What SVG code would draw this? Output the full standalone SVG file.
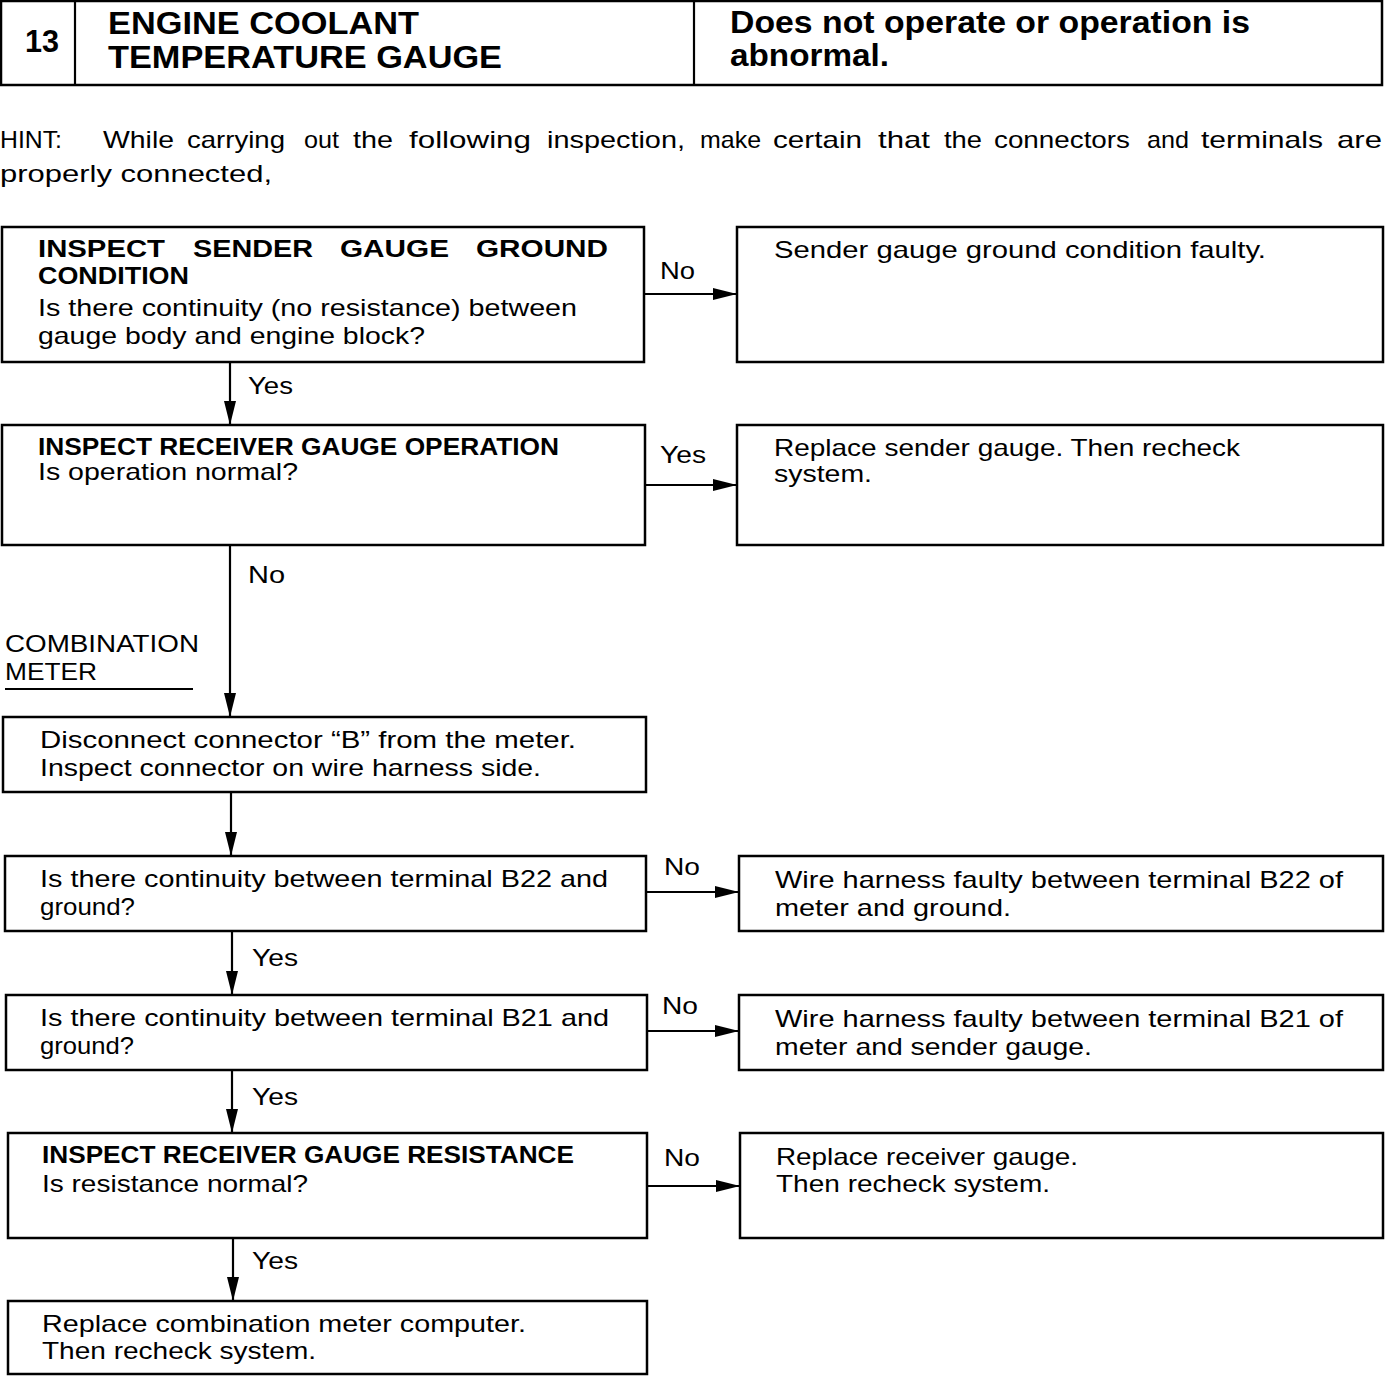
<svg xmlns="http://www.w3.org/2000/svg" width="1392" height="1376" viewBox="0 0 1392 1376">
<style>
.box{fill:#fff;stroke:#000;stroke-width:2.5}
.ln{fill:none;stroke:#000;stroke-width:2.2}
text{font-family:"Liberation Sans",Arial,sans-serif;fill:#000}
.t{font-size:24px}
.b{font-size:24px;font-weight:bold}
.h{font-size:31px;font-weight:bold}
.lb{font-size:24px}
</style>
<defs>
<marker id="ah" markerUnits="userSpaceOnUse" markerWidth="26" markerHeight="14" refX="24" refY="7" orient="auto">
<path d="M0,1 L24,7 L0,13 Z" fill="#000"/>
</marker>
</defs>
<rect width="1392" height="1376" fill="#fff"/>

<g id="header">
<rect class="box" x="1" y="1" width="1381" height="84"/>
<line class="ln" x1="75" y1="1" x2="75" y2="85"/>
<line class="ln" x1="694" y1="1" x2="694" y2="85"/>
<text class="h" x="25" y="52" font-size="27" textLength="34" lengthAdjust="spacingAndGlyphs">13</text>
<text class="h" x="108" y="34" textLength="311" lengthAdjust="spacingAndGlyphs">ENGINE COOLANT</text>
<text class="h" x="108" y="68" textLength="394" lengthAdjust="spacingAndGlyphs">TEMPERATURE GAUGE</text>
<text class="h" x="730" y="33" textLength="520" lengthAdjust="spacingAndGlyphs">Does not operate or operation is</text>
<text class="h" x="730" y="66" textLength="159" lengthAdjust="spacingAndGlyphs">abnormal.</text>
</g>

<g id="hint">
<text class="t" y="148" x="0" textLength="62" lengthAdjust="spacingAndGlyphs">HINT:</text>
<text class="t" y="148" x="103" textLength="71" lengthAdjust="spacingAndGlyphs">While</text>
<text class="t" y="148" x="187" textLength="98" lengthAdjust="spacingAndGlyphs">carrying</text>
<text class="t" y="148" x="304" textLength="35" lengthAdjust="spacingAndGlyphs">out</text>
<text class="t" y="148" x="353" textLength="40" lengthAdjust="spacingAndGlyphs">the</text>
<text class="t" y="148" x="409" textLength="122" lengthAdjust="spacingAndGlyphs">following</text>
<text class="t" y="148" x="547" textLength="138" lengthAdjust="spacingAndGlyphs">inspection,</text>
<text class="t" y="148" x="700" textLength="61" lengthAdjust="spacingAndGlyphs">make</text>
<text class="t" y="148" x="773" textLength="89" lengthAdjust="spacingAndGlyphs">certain</text>
<text class="t" y="148" x="878" textLength="52" lengthAdjust="spacingAndGlyphs">that</text>
<text class="t" y="148" x="944" textLength="38" lengthAdjust="spacingAndGlyphs">the</text>
<text class="t" y="148" x="994" textLength="136" lengthAdjust="spacingAndGlyphs">connectors</text>
<text class="t" y="148" x="1147" textLength="42" lengthAdjust="spacingAndGlyphs">and</text>
<text class="t" y="148" x="1201" textLength="122" lengthAdjust="spacingAndGlyphs">terminals</text>
<text class="t" y="148" x="1337" textLength="45" lengthAdjust="spacingAndGlyphs">are</text>
<text class="t" x="0" y="182" textLength="272" lengthAdjust="spacingAndGlyphs">properly connected,</text>
</g>

<g id="connectors">
<line class="ln" x1="644" y1="294" x2="737" y2="294" marker-end="url(#ah)"/>
<text class="lb" x="660" y="279" textLength="35" lengthAdjust="spacingAndGlyphs">No</text>
<line class="ln" x1="230" y1="362" x2="230" y2="425" marker-end="url(#ah)"/>
<text class="lb" x="248" y="394" textLength="45" lengthAdjust="spacingAndGlyphs">Yes</text>
<line class="ln" x1="645" y1="485" x2="737" y2="485" marker-end="url(#ah)"/>
<text class="lb" x="660" y="463" textLength="46" lengthAdjust="spacingAndGlyphs">Yes</text>
<line class="ln" x1="230" y1="545" x2="230" y2="717" marker-end="url(#ah)"/>
<text class="lb" x="248" y="583" textLength="37" lengthAdjust="spacingAndGlyphs">No</text>
<line class="ln" x1="231" y1="792" x2="231" y2="856" marker-end="url(#ah)"/>
<line class="ln" x1="646" y1="892" x2="739" y2="892" marker-end="url(#ah)"/>
<text class="lb" x="664" y="875" textLength="36" lengthAdjust="spacingAndGlyphs">No</text>
<line class="ln" x1="232" y1="931" x2="232" y2="995" marker-end="url(#ah)"/>
<text class="lb" x="252" y="966" textLength="46" lengthAdjust="spacingAndGlyphs">Yes</text>
<line class="ln" x1="647" y1="1031" x2="739" y2="1031" marker-end="url(#ah)"/>
<text class="lb" x="662" y="1014" textLength="36" lengthAdjust="spacingAndGlyphs">No</text>
<line class="ln" x1="232" y1="1070" x2="232" y2="1133" marker-end="url(#ah)"/>
<text class="lb" x="252" y="1105" textLength="46" lengthAdjust="spacingAndGlyphs">Yes</text>
<line class="ln" x1="647" y1="1186" x2="740" y2="1186" marker-end="url(#ah)"/>
<text class="lb" x="664" y="1166" textLength="36" lengthAdjust="spacingAndGlyphs">No</text>
<line class="ln" x1="233" y1="1238" x2="233" y2="1301" marker-end="url(#ah)"/>
<text class="lb" x="252" y="1269" textLength="46" lengthAdjust="spacingAndGlyphs">Yes</text>
</g>

<g id="combination-meter-label">
<text class="t" x="5" y="652" textLength="194" lengthAdjust="spacingAndGlyphs">COMBINATION</text>
<text class="t" x="5" y="680" textLength="92" lengthAdjust="spacingAndGlyphs">METER</text>
<line class="ln" x1="5" y1="689" x2="193" y2="689"/>
</g>

<g id="n1">
<rect class="box" x="2" y="227" width="642" height="135"/>
<text class="b" y="257" x="38" textLength="127" lengthAdjust="spacingAndGlyphs">INSPECT</text>
<text class="b" y="257" x="193" textLength="120" lengthAdjust="spacingAndGlyphs">SENDER</text>
<text class="b" y="257" x="340" textLength="109" lengthAdjust="spacingAndGlyphs">GAUGE</text>
<text class="b" y="257" x="476" textLength="132" lengthAdjust="spacingAndGlyphs">GROUND</text>
<text class="b" x="38" y="284" textLength="151" lengthAdjust="spacingAndGlyphs">CONDITION</text>
<text class="t" x="38" y="316" textLength="539" lengthAdjust="spacingAndGlyphs">Is there continuity (no resistance) between</text>
<text class="t" x="38" y="344" textLength="387" lengthAdjust="spacingAndGlyphs">gauge body and engine block?</text>
</g>
<g id="r1">
<rect class="box" x="737" y="227" width="646" height="135"/>
<text class="t" x="774" y="258" textLength="492" lengthAdjust="spacingAndGlyphs">Sender gauge ground condition faulty.</text>
</g>

<g id="n2">
<rect class="box" x="2" y="425" width="643" height="120"/>
<text class="b" x="38" y="455" font-size="22" textLength="521" lengthAdjust="spacingAndGlyphs">INSPECT RECEIVER GAUGE OPERATION</text>
<text class="t" x="38" y="480" font-size="22" textLength="260" lengthAdjust="spacingAndGlyphs">Is operation normal?</text>
</g>
<g id="r2">
<rect class="box" x="737" y="425" width="646" height="120"/>
<text class="t" x="774" y="456" textLength="466" lengthAdjust="spacingAndGlyphs">Replace sender gauge. Then recheck</text>
<text class="t" x="774" y="482" textLength="98" lengthAdjust="spacingAndGlyphs">system.</text>
</g>

<g id="n3">
<rect class="box" x="3" y="717" width="643" height="75"/>
<text class="t" x="40" y="748" textLength="536" lengthAdjust="spacingAndGlyphs">Disconnect connector “B” from the meter.</text>
<text class="t" x="40" y="776" textLength="501" lengthAdjust="spacingAndGlyphs">Inspect connector on wire harness side.</text>
</g>

<g id="n4">
<rect class="box" x="5" y="856" width="641" height="75"/>
<text class="t" x="40" y="887" textLength="568" lengthAdjust="spacingAndGlyphs">Is there continuity between terminal B22 and</text>
<text class="t" x="40" y="915" textLength="95" lengthAdjust="spacingAndGlyphs">ground?</text>
</g>
<g id="r4">
<rect class="box" x="739" y="856" width="644" height="75"/>
<text class="t" x="775" y="888" textLength="568" lengthAdjust="spacingAndGlyphs">Wire harness faulty between terminal B22 of</text>
<text class="t" x="775" y="916" textLength="236" lengthAdjust="spacingAndGlyphs">meter and ground.</text>
</g>

<g id="n5">
<rect class="box" x="6" y="995" width="641" height="75"/>
<text class="t" x="40" y="1026" textLength="569" lengthAdjust="spacingAndGlyphs">Is there continuity between terminal B21 and</text>
<text class="t" x="40" y="1054" textLength="94" lengthAdjust="spacingAndGlyphs">ground?</text>
</g>
<g id="r5">
<rect class="box" x="739" y="995" width="644" height="75"/>
<text class="t" x="775" y="1027" textLength="568" lengthAdjust="spacingAndGlyphs">Wire harness faulty between terminal B21 of</text>
<text class="t" x="775" y="1055" textLength="317" lengthAdjust="spacingAndGlyphs">meter and sender gauge.</text>
</g>

<g id="n6">
<rect class="box" x="8" y="1133" width="639" height="105"/>
<text class="b" x="42" y="1163" textLength="532" lengthAdjust="spacingAndGlyphs">INSPECT RECEIVER GAUGE RESISTANCE</text>
<text class="t" x="42" y="1192" textLength="266" lengthAdjust="spacingAndGlyphs">Is resistance normal?</text>
</g>
<g id="r6">
<rect class="box" x="740" y="1133" width="643" height="105"/>
<text class="t" x="776" y="1165" textLength="302" lengthAdjust="spacingAndGlyphs">Replace receiver gauge.</text>
<text class="t" x="776" y="1192" textLength="274" lengthAdjust="spacingAndGlyphs">Then recheck system.</text>
</g>

<g id="n7">
<rect class="box" x="8" y="1301" width="639" height="73"/>
<text class="t" x="42" y="1332" textLength="484" lengthAdjust="spacingAndGlyphs">Replace combination meter computer.</text>
<text class="t" x="42" y="1359" textLength="274" lengthAdjust="spacingAndGlyphs">Then recheck system.</text>
</g>
</svg>
